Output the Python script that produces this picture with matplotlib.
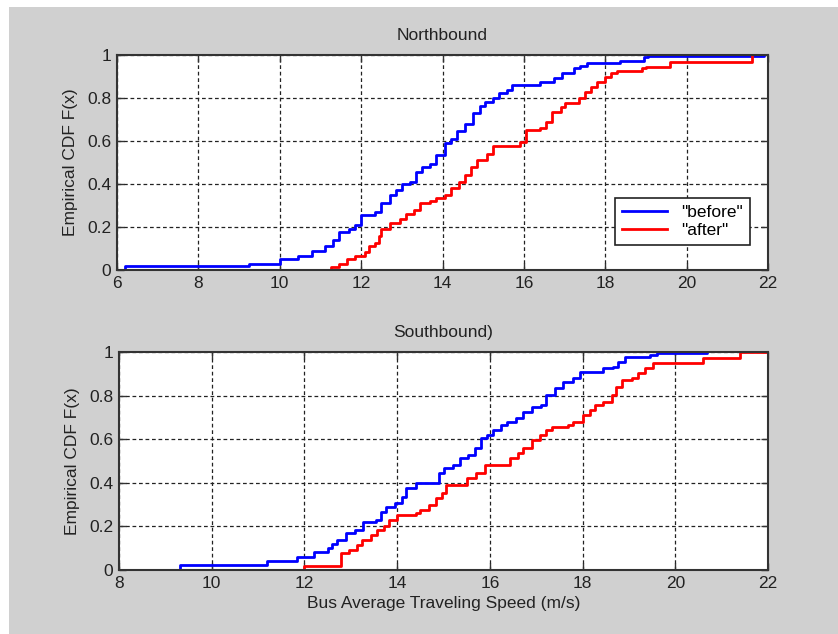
import numpy as np
import matplotlib
matplotlib.use("Agg")
import matplotlib.pyplot as plt
from matplotlib.patches import Rectangle

# speeds where each empirical CDF jumps, and F(x) just after the jump
north_before_x = [6.2, 9.25, 10.0, 10.45, 10.8, 11.1, 11.3, 11.45, 11.7, 11.85, 12.0,
                  12.35, 12.5, 12.7, 12.85, 13.0, 13.2, 13.35, 13.5, 13.7, 13.85, 14.05,
                  14.2, 14.35, 14.55, 14.76, 14.92, 15.05, 15.25, 15.4, 15.58, 15.7,
                  16.4, 16.73, 16.93, 17.22, 17.38, 17.55, 18.37, 18.94, 19.05, 21.9]
north_before_F = [0.02, 0.03, 0.05, 0.065, 0.09, 0.11, 0.14, 0.175, 0.19, 0.21, 0.255,
                  0.27, 0.31, 0.35, 0.37, 0.40, 0.41, 0.455, 0.48, 0.495, 0.535, 0.59,
                  0.61, 0.645, 0.68, 0.73, 0.765, 0.783, 0.798, 0.822, 0.837, 0.86,
                  0.876, 0.891, 0.915, 0.938, 0.95, 0.964, 0.973, 0.99, 0.995, 1.0]
north_after_x = [11.27, 11.45, 11.65, 11.85, 12.1, 12.2, 12.35, 12.45, 12.5, 12.7, 12.95,
                 13.1, 13.3, 13.45, 13.7, 13.85, 14.05, 14.2, 14.4, 14.55, 14.7, 14.85,
                 15.1, 15.25, 15.9, 16.05, 16.4, 16.55, 16.7, 16.9, 17.0, 17.35, 17.5,
                 17.65, 17.8, 18.0, 18.15, 18.3, 18.9, 19.0, 19.6, 21.6]
north_after_F = [0.015, 0.03, 0.05, 0.065, 0.085, 0.11, 0.125, 0.16, 0.19, 0.22, 0.235,
                 0.26, 0.28, 0.31, 0.32, 0.335, 0.35, 0.38, 0.41, 0.44, 0.48, 0.51,
                 0.54, 0.575, 0.597, 0.65, 0.66, 0.69, 0.735, 0.76, 0.775, 0.80, 0.83,
                 0.853, 0.876, 0.90, 0.915, 0.925, 0.938, 0.946, 0.969, 1.0]

south_before_x = [9.32, 11.19, 11.84, 12.2, 12.5, 12.6, 12.7, 12.9, 13.1, 13.27, 13.55,
                  13.66, 13.77, 13.95, 14.1, 14.2, 14.4, 14.9, 15.0, 15.2, 15.35, 15.53,
                  15.68, 15.8, 15.93, 16.07, 16.25, 16.36, 16.57, 16.72, 16.9, 17.11,
                  17.22, 17.4, 17.58, 17.8, 17.94, 18.45, 18.66, 18.77, 18.91, 19.45,
                  19.6, 20.68]
south_before_F = [0.023, 0.043, 0.061, 0.084, 0.10, 0.12, 0.138, 0.168, 0.183, 0.222, 0.229,
                  0.268, 0.291, 0.306, 0.336, 0.375, 0.398, 0.443, 0.47, 0.482, 0.512, 0.528,
                  0.558, 0.604, 0.619, 0.642, 0.665, 0.68, 0.696, 0.726, 0.749, 0.757,
                  0.803, 0.833, 0.864, 0.879, 0.91, 0.925, 0.933, 0.956, 0.979, 0.987,
                  0.995, 1.0]
south_after_x = [11.98, 12.78, 12.96, 13.14, 13.25, 13.43, 13.57, 13.72, 13.83, 14.0, 14.4,
                 14.5, 14.68, 14.83, 14.97, 15.06, 15.5, 15.71, 15.89, 16.43, 16.61,
                 16.72, 16.9, 17.08, 17.22, 17.33, 17.69, 17.8, 18.0, 18.16, 18.27,
                 18.45, 18.63, 18.73, 18.84, 19.06, 19.2, 19.34, 19.52, 20.6, 21.4, 21.98]
south_after_F = [0.02, 0.078, 0.094, 0.115, 0.138, 0.16, 0.183, 0.20, 0.229, 0.252, 0.26,
                 0.275, 0.298, 0.329, 0.352, 0.39, 0.42, 0.443, 0.482, 0.512, 0.535,
                 0.558, 0.596, 0.619, 0.642, 0.657, 0.665, 0.68, 0.711, 0.734, 0.757,
                 0.772, 0.803, 0.841, 0.872, 0.879, 0.902, 0.925, 0.948, 0.971, 1.0, 1.0]

plt.rcParams['font.family'] = ['Liberation Sans', 'DejaVu Sans']
plt.rcParams['font.size'] = 12.5

fig = plt.figure(figsize=(8.38, 6.34), dpi=100, facecolor='white')
fig.patches.append(Rectangle((9 / 838, 0), 1, 1 - 7 / 634, transform=fig.transFigure,
                             facecolor='#d0d0d0', edgecolor='none', zorder=-10))

ax1 = fig.add_axes([0.1396, 0.5741, 0.7769, 0.3391])
ax2 = fig.add_axes([0.1420, 0.1009, 0.7745, 0.3439])


def cdf_line(ax, xs, fs, color, label):
    x = np.r_[xs[0], xs]
    y = np.r_[0.0, fs]
    ax.step(x, y, where='post', color=color, lw=2, label=label)


def style(ax, xmin, title):
    ax.set_xlim(xmin, 22)
    ax.set_ylim(0, 1)
    ax.set_xticks(np.arange(xmin, 23, 2))
    ax.set_yticks([0, 0.2, 0.4, 0.6, 0.8, 1])
    ax.set_yticklabels(['0', '0.2', '0.4', '0.6', '0.8', '1'])
    ax.grid(True, color='#222222', linestyle=(0, (3, 2.2)), lw=0.9)
    ax.set_axisbelow(True)
    ax.tick_params(direction='in', top=True, right=True, length=5, width=1,
                   labelsize=12.5, pad=4, colors='#333333', labelcolor='#222222')
    for s in ax.spines.values():
        s.set_color('#333333')
        s.set_linewidth(1.5)
    ax.set_ylabel('Empirical CDF F(x)', fontsize=12.5, color='#222222', labelpad=7)
    ax.set_title(title, fontsize=12.5, color='#222222', pad=11)


cdf_line(ax1, north_before_x, north_before_F, '#0000ff', '"before"')
cdf_line(ax1, north_after_x, north_after_F, '#ff0000', '"after"')
style(ax1, 6, 'Northbound')
leg = ax1.legend(loc='lower right', bbox_to_anchor=(0.985, 0.075), fancybox=False,
                 edgecolor='#222222', framealpha=1, fontsize=12.5, handlelength=2.6,
                 borderpad=0.4, labelspacing=0.2, handletextpad=0.8)
leg.get_frame().set_linewidth(1.2)

cdf_line(ax2, south_before_x, south_before_F, '#0000ff', '"before"')
cdf_line(ax2, south_after_x, south_after_F, '#ff0000', '"after"')
style(ax2, 8, 'Southbound)')
ax2.set_xlabel('Bus Average Traveling Speed (m/s)', fontsize=12.5, color='#222222', labelpad=4)

fig.savefig('out.png', dpi=100, facecolor=fig.get_facecolor())
